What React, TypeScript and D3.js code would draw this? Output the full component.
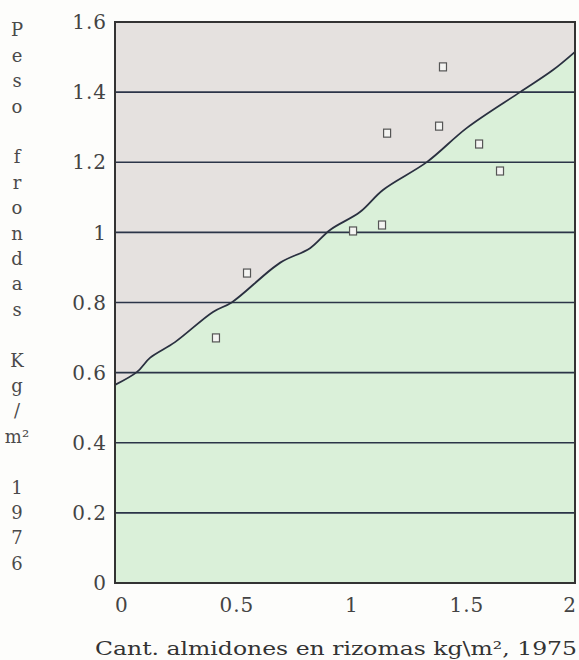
import {useMemo} from "react";
import * as d3 from "d3";

// curve (starch 1975 -> frond weight 1976)
const curveX = [-0.03, 0.066, 0.122, 0.231, 0.396, 0.479, 0.687, 0.818, 0.905, 1.035, 1.135, 1.327, 1.5, 1.731, 1.874, 1.97];
const curveY = [0.565, 0.602, 0.642, 0.687, 0.773, 0.801, 0.913, 0.955, 1.007, 1.058, 1.121, 1.201, 1.298, 1.4, 1.463, 1.515];

// measured points
const pointX = [0.409, 0.544, 1.005, 1.131, 1.153, 1.379, 1.396, 1.553, 1.644];
const pointY = [0.699, 0.884, 1.004, 1.021, 1.283, 1.303, 1.472, 1.252, 1.175];

const xTicks = [0, 0.5, 1, 1.5, 2];
const xTickLabels = ["0", "0.5", "1", "1.5", "2"];
const yTicks = [0, 0.2, 0.4, 0.6, 0.8, 1, 1.2, 1.4, 1.6];
const yTickLabels = ["0", "0.2", "0.4", "0.6", "0.8", "1", "1.2", "1.4", "1.6"];

// vertical y title, one glyph per line ("" = blank line)
const yTitle = ["P", "e", "s", "o", "", "f", "r", "o", "n", "d", "a", "s", "", "K", "g", "/", "m²", "", "1", "9", "7", "6"];
const xTitle = "Cant. almidones en rizomas kg\\m², 1975";

function App() {
    const width = 579;
    const height = 660;
    const margin = {top: 22, right: 4, bottom: 77, left: 115};

    const xScale = d3.scaleLinear().domain([-0.03, 1.97]).range([margin.left, width - margin.right]);
    const yScale = d3.scaleLinear().domain([0, 1.6]).range([height - margin.bottom, margin.top]);

    const curve = useMemo(() => curveX.map((x, i) => [x, curveY[i]] as [number, number]), []);
    const line = d3.line<[number, number]>().x(d => xScale(d[0])).y(d => yScale(d[1])).curve(d3.curveCatmullRom);
    const upper = d3.area<[number, number]>().x(d => xScale(d[0])).y0(yScale(1.6)).y1(d => yScale(d[1])).curve(d3.curveCatmullRom);
    const lower = d3.area<[number, number]>().x(d => xScale(d[0])).y0(yScale(0)).y1(d => yScale(d[1])).curve(d3.curveCatmullRom);

    const x0 = xScale(-0.03);
    const x1 = xScale(1.97);
    const font = "'DejaVu Serif', serif";
    const ink = "#444";

    return (
        <svg width={width} height={height} style={{position: "absolute", left: 0, top: 0, background: "#fdfdfb"}}>
            <path d={upper(curve) || ""} fill="#e5e1df"/>
            <path d={lower(curve) || ""} fill="#daf0d9"/>

            {/* grid lines */}
            {yTicks.filter(t => t > 0 && t < 1.6).map(t =>
                <line key={t} x1={x0} x2={x1} y1={yScale(t)} y2={yScale(t)} stroke="#2b3448" strokeWidth={1.6}/>
            )}

            <path d={line(curve) || ""} fill="none" stroke="#2a3040" strokeWidth={1.8}/>

            {pointX.map((x, i) =>
                <rect key={i} x={xScale(x) - 3.5} y={yScale(pointY[i]) - 4} width={7} height={8}
                      fill="#f4f4f2" stroke="#555" strokeWidth={1.2}/>
            )}

            {/* frame */}
            <rect x={x0} y={yScale(1.6)} width={x1 - x0} height={yScale(0) - yScale(1.6)}
                  fill="none" stroke="#333" strokeWidth={2}/>

            {yTicks.map((t, i) =>
                <text key={t} x={107} y={yScale(t)} dy="0.36em" textAnchor="end" fontFamily={font}
                      fontSize={20} fill={ink} letterSpacing={1}>{yTickLabels[i]}</text>
            )}
            {xTicks.map((t, i) =>
                <text key={t} x={Math.min(xScale(t), 570)} y={612} textAnchor="middle" fontFamily={font}
                      fontSize={20} fill={ink} letterSpacing={1}>{xTickLabels[i]}</text>
            )}

            {yTitle.map((c, i) =>
                <text key={i} x={17} y={30 + i * 25.4} dy="0.36em" textAnchor="middle" fontFamily={font}
                      fontSize={18} fill="#4a4a4a">{c}</text>
            )}

            <text x={95} y={655} fontFamily={font} fontSize={19} fill="#333"
                  textLength={482} lengthAdjust="spacingAndGlyphs">{xTitle}</text>
        </svg>
    );
}

export default App;
